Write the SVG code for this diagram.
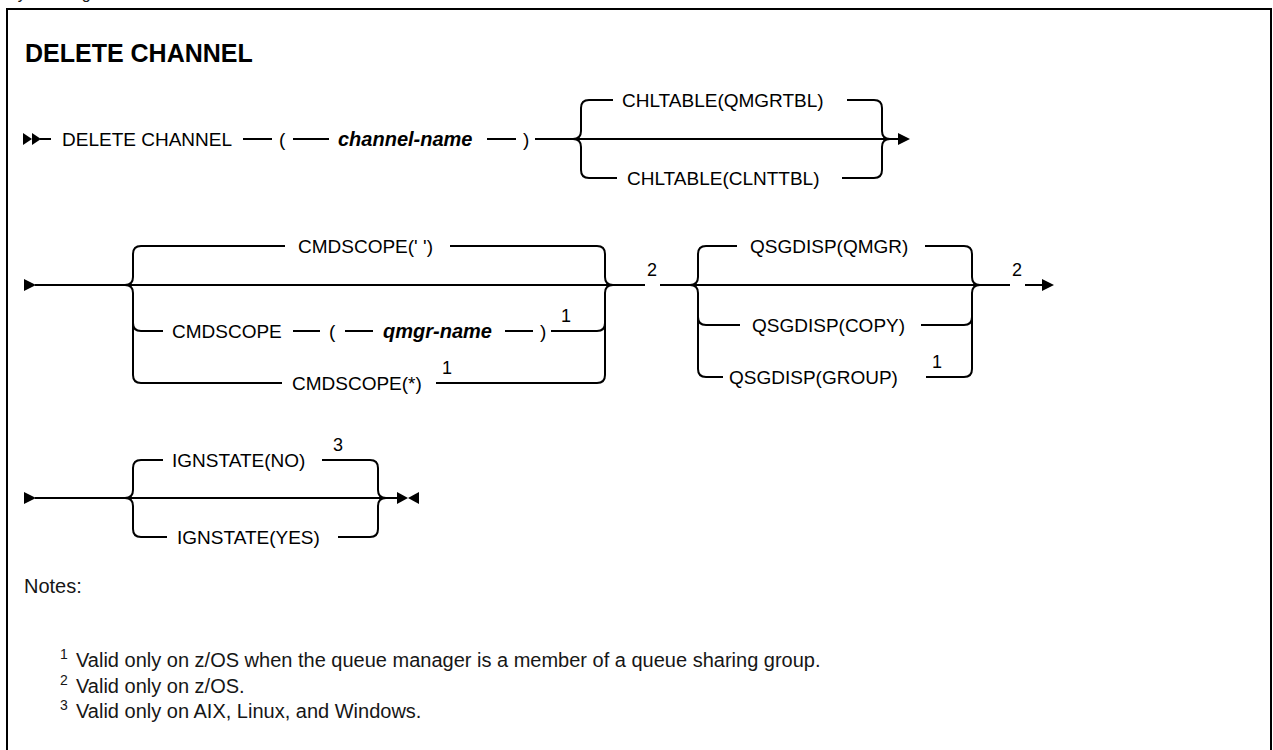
<svg xmlns="http://www.w3.org/2000/svg" width="1273" height="750" viewBox="0 0 1273 750">
<style>
.t{font-family:"Liberation Sans",Arial,sans-serif;font-size:19px;fill:#000}
.v{font-style:italic;font-weight:bold;font-size:20px}
.s{font-family:"Liberation Sans",Arial,sans-serif;font-size:18px;fill:#000}
.h{font-family:"Liberation Sans",Arial,sans-serif;font-size:25px;font-weight:bold;fill:#000}
.n{font-family:"Liberation Sans",Arial,sans-serif;font-size:20px;fill:#161616}
.ns{font-family:"Liberation Sans",Arial,sans-serif;font-size:14px;fill:#161616}
.ln{stroke:#000;stroke-width:2;fill:none}
.ah{fill:#000;stroke:none}
</style>
<rect width="1273" height="750" fill="#fff"/>
<text x="7" y="-1" class="n" style="font-size:16px">Syntax diagram</text>
<path d="M7,752 V9 H1271 V752" fill="none" stroke="#000" stroke-width="2"/>
<g id="title"><text x="25" y="62" class="h">DELETE CHANNEL</text></g>

<g id="connectors">
<!-- row 1 -->
<polygon class="ah" points="23,133 32,139 23,145"/>
<polygon class="ah" points="32,133 41,139 32,145"/>
<path class="ln" d="M40,139 H51"/>
<path class="ln" d="M243,139 H272 M293,139 H329 M487,139 H516 M535,139 H573"/>
<path class="ln" d="M573,139 H890"/>
<path class="ln" d="M573,139 Q581,139 581,131 V108 Q581,100 589,100 H613 M847,100 H874 Q882,100 882,108 V131 Q882,139 890,139"/>
<path class="ln" d="M573,139 Q581,139 581,147 V170 Q581,178 589,178 H617 M842,178 H874 Q882,178 882,170 V147 Q882,139 890,139"/>
<path class="ln" d="M890,139 H899"/>
<polygon class="ah" points="898,133 910,139 898,145"/>
<!-- row 2 -->
<polygon class="ah" points="24,279 36,285 24,291"/>
<path class="ln" d="M35,285 H613"/>
<path class="ln" d="M125,285 Q133,285 133,277 V254 Q133,246 141,246 H285 M450,246 H597 Q605,246 605,254 V277 Q605,285 613,285"/>
<path class="ln" d="M125,285 Q133,285 133,293 V323 Q133,331 141,331 H163 M293,331 H320 M345,331 H373 M505,331 H533 M551,331 H597 Q605,331 605,323 V293 Q605,285 613,285"/>
<path class="ln" d="M133,323 V375 Q133,383 141,383 H282 M436,383 H597 Q605,383 605,375 V323"/>
<path class="ln" d="M613,285 H645 M660,285 H690 M690,285 H980"/>
<path class="ln" d="M690,285 Q698,285 698,277 V254 Q698,246 706,246 H737 M925,246 H964 Q972,246 972,254 V277 Q972,285 980,285"/>
<path class="ln" d="M690,285 Q698,285 698,293 V317 Q698,325 706,325 H740 M921,325 H964 Q972,325 972,317 V293 Q972,285 980,285"/>
<path class="ln" d="M698,317 V369 Q698,377 706,377 H723 M926,377 H964 Q972,377 972,369 V317"/>
<path class="ln" d="M980,285 H1010 M1025,285 H1043"/>
<polygon class="ah" points="1042,279 1054,285 1042,291"/>
<!-- row 3 -->
<polygon class="ah" points="24,492 36,498 24,504"/>
<path class="ln" d="M35,498 H398"/>
<path class="ln" d="M125,498 Q133,498 133,490 V468 Q133,460 141,460 H163 M322,460 H370 Q378,460 378,468 V490 Q378,498 386,498"/>
<path class="ln" d="M125,498 Q133,498 133,506 V529 Q133,537 141,537 H167 M338,537 H370 Q378,537 378,529 V506 Q378,498 386,498"/>
<polygon class="ah" points="397,492 408,498 397,504"/>
<polygon class="ah" points="419,492 408,498 419,504"/>
</g>

<g id="n-delete-channel"><text x="62" y="146" class="t">DELETE CHANNEL</text></g>
<g id="n-lparen1"><text x="279" y="146" class="t">(</text></g>
<g id="n-channel-name"><text x="338" y="146" class="t v">channel-name</text></g>
<g id="n-rparen1"><text x="523" y="146" class="t">)</text></g>
<g id="n-chltable-qmgrtbl"><text x="622" y="107" class="t">CHLTABLE(QMGRTBL)</text></g>
<g id="n-chltable-clnttbl"><text x="627" y="185" class="t">CHLTABLE(CLNTTBL)</text></g>

<g id="n-cmdscope-blank"><text x="298" y="253" class="t">CMDSCOPE(' ')</text></g>
<g id="n-cmdscope"><text x="172" y="338" class="t">CMDSCOPE</text></g>
<g id="n-lparen2"><text x="329" y="338" class="t">(</text></g>
<g id="n-qmgr-name"><text x="383" y="338" class="t v">qmgr-name</text></g>
<g id="n-rparen2"><text x="540" y="338" class="t">)</text></g>
<g id="n-note1a"><text x="561" y="322" class="s">1</text></g>
<g id="n-cmdscope-star"><text x="292" y="390" class="t">CMDSCOPE(*)</text></g>
<g id="n-note1b"><text x="442" y="374" class="s">1</text></g>
<g id="n-note2a"><text x="647" y="276" class="s">2</text></g>
<g id="n-qsgdisp-qmgr"><text x="750" y="253" class="t">QSGDISP(QMGR)</text></g>
<g id="n-qsgdisp-copy"><text x="752" y="332" class="t">QSGDISP(COPY)</text></g>
<g id="n-qsgdisp-group"><text x="729" y="384" class="t">QSGDISP(GROUP)</text></g>
<g id="n-note1c"><text x="932" y="368" class="s">1</text></g>
<g id="n-note2b"><text x="1012" y="276" class="s">2</text></g>

<g id="n-ignstate-no"><text x="172" y="467" class="t">IGNSTATE(NO)</text></g>
<g id="n-note3"><text x="333" y="451" class="s">3</text></g>
<g id="n-ignstate-yes"><text x="177" y="544" class="t">IGNSTATE(YES)</text></g>

<g id="notes">
<text x="24" y="593" class="n">Notes:</text>
<text x="60" y="659" class="ns">1</text><text x="76" y="667" class="n">Valid only on z/OS when the queue manager is a member of a queue sharing group.</text>
<text x="60" y="685" class="ns">2</text><text x="76" y="693" class="n">Valid only on z/OS.</text>
<text x="60" y="710" class="ns">3</text><text x="76" y="718" class="n">Valid only on AIX, Linux, and Windows.</text>
</g>
</svg>
